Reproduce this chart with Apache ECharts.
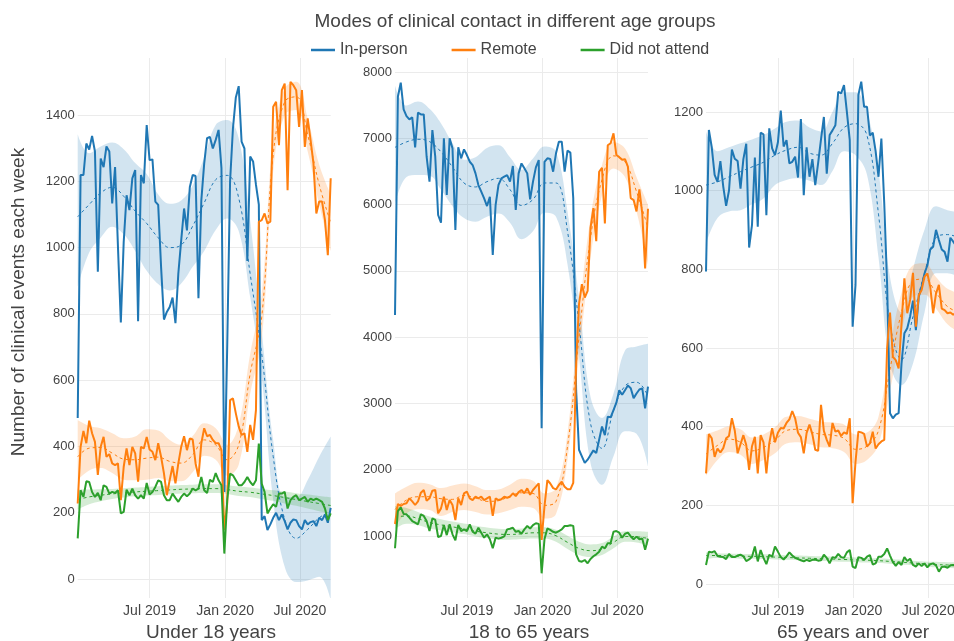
<!DOCTYPE html>
<html>
<head>
<meta charset="utf-8">
<style>
html, body { margin: 0; padding: 0; background: #fff; }
#chart { width: 954px; height: 641px; }
</style>
<script src="https://cdn.jsdelivr.net/npm/echarts@6/dist/echarts.min.js"></script>
</head>
<body>
<div id="chart"></div>
<script>
// weekly counts, 89 weeks starting 7 Jan 2019
var u18InPerson = [486, 1219, 1219, 1314, 1296, 1337, 1290, 927, 1269, 1243,
  1305, 1290, 1133, 1243, 1003, 774, 1017, 1158, 1113, 1209,
  1234, 778, 1219, 1194, 1370, 1264, 1266, 1139, 1129, 942,
  783, 806, 821, 849, 772, 922, 1022, 1118, 1052, 1183,
  1219, 1216, 847, 1143, 1254, 1330, 1334, 1299, 1325, 1355,
  1240, 263, 700, 1200, 1360, 1453, 1487, 1320, 1299, 960,
  1275, 1260, 1190, 1130, 178, 190, 148, 165, 185, 200,
  178, 195, 175, 150, 170, 180, 178, 160, 150, 178,
  165, 172, 175, 160, 185, 178, 195, 170, 215];
var u18Remote = [228, 399, 447, 410, 478, 440, 414, 314, 399, 429,
  369, 377, 349, 344, 349, 238, 339, 394, 344, 399,
  379, 294, 399, 394, 429, 391, 384, 359, 410, 369,
  319, 253, 299, 341, 289, 349, 399, 431, 389, 424,
  421, 349, 309, 410, 455, 431, 435, 420, 410, 410,
  389, 148, 228, 540, 545, 500, 460, 435, 440, 384,
  465, 420, 510, 1078, 1083, 1103, 1073, 1078, 1425, 1440,
  1309, 1475, 1495, 1173, 1500, 1490, 1475, 1364, 1475, 1304,
  1390, 1324, 1254, 1103, 1139, 1139, 1083, 977, 1209];
var u18Dna = [123, 268, 248, 295, 293, 263, 248, 260, 238, 283,
  278, 258, 263, 260, 268, 198, 203, 270, 253, 273,
  253, 243, 253, 243, 290, 255, 263, 278, 298, 293,
  253, 238, 238, 258, 245, 233, 248, 258, 250, 258,
  273, 268, 273, 308, 268, 260, 300, 293, 320, 298,
  283, 77, 238, 318, 313, 298, 283, 283, 293, 308,
  293, 283, 298, 409, 288, 263, 198, 213, 226, 218,
  258, 258, 263, 213, 238, 248, 253, 238, 243, 248,
  233, 243, 238, 243, 238, 233, 213, 178, 198];

var midInPerson = [4335, 7633, 7845, 7442, 7341, 7291, 7321, 6868, 7392, 7366,
  7366, 6727, 6350, 7130, 6727, 5846, 5730, 7004, 6148, 7004,
  6853, 5619, 6868, 6702, 6838, 6752, 6651, 6601, 6475, 6299,
  6198, 6097, 5981, 6122, 5241, 6000, 6300, 6400, 6425, 6450,
  6350, 6586, 5921, 6475, 6626, 6551, 6475, 6083, 6350, 6566,
  6677, 2624, 6650, 6702, 6692, 6500, 6778, 6954, 6954, 6500,
  6818, 6788, 6100, 3200, 2300, 2200, 2100, 2150, 2220, 2290,
  2250, 2450, 2650, 2520, 2800, 2790, 2900, 3010, 3200, 3130,
  3200, 3270, 3230, 3080, 3150, 3210, 3228, 2926, 3253];
var midRemote = [1178, 1480, 1450, 1480, 1490, 1566, 1520, 1465, 1520, 1651,
  1692, 1530, 1566, 1681, 1692, 1339, 1414, 1591, 1389, 1540,
  1465, 1238, 1566, 1465, 1641, 1666, 1565, 1540, 1591, 1566,
  1590, 1540, 1566, 1591, 1300, 1566, 1540, 1551, 1591, 1575,
  1590, 1641, 1600, 1660, 1692, 1641, 1717, 1620, 1692, 1742,
  1792, 937, 1450, 1842, 1790, 1720, 1700, 1767, 1817, 1742,
  1702, 1702, 1800, 3600, 4500, 4800, 4600, 4700, 5650, 5950,
  5450, 6500, 6560, 5720, 6900, 6930, 7079, 6752, 6720, 6680,
  6690, 6576, 6100, 6072, 5900, 6233, 5871, 5040, 5940];
var midDna = [811, 1374, 1430, 1330, 1324, 1274, 1223, 1198, 1173, 1324,
  1299, 1223, 1072, 1263, 1240, 982, 997, 1163, 1010, 1173,
  1022, 932, 1163, 1072, 1097, 1072, 1173, 1062, 1032, 1122,
  1047, 972, 1022, 947, 811, 972, 957, 970, 990, 1097,
  1107, 1122, 1060, 1072, 1030, 1097, 1148, 1110, 1160, 1190,
  1180, 433, 950, 1110, 1090, 1060, 1047, 1072, 1097, 1148,
  1148, 1160, 1150, 720, 620, 609, 634, 584, 650, 690,
  720, 760, 836, 811, 886, 890, 1062, 1072, 1047, 972,
  1030, 1047, 990, 947, 987, 947, 960, 790, 957];

var oldInPerson = [794, 1154, 1110, 1040, 1022, 1075, 1010, 961, 1000, 1104,
  1081, 1075, 1005, 1080, 1119, 855, 913, 1084, 908, 1147,
  1143, 937, 1158, 1107, 1090, 1122, 1203, 1112, 1128, 1069,
  1073, 1086, 1033, 1182, 988, 1110, 1035, 1080, 1014, 1070,
  1130, 1187, 1043, 1141, 1153, 1166, 1251, 1247, 1268, 1200,
  1128, 654, 760, 1243, 1277, 1213, 1213, 1140, 1147, 1100,
  1035, 1132, 967, 760, 434, 421, 430, 434, 560, 637,
  650, 680, 720, 645, 730, 755, 789, 810, 850, 857,
  900, 874, 850, 844, 819, 880, 870, 860, 850];
var oldRemote = [281, 381, 370, 323, 344, 334, 345, 370, 376, 421,
  390, 332, 355, 378, 353, 290, 350, 374, 281, 378,
  360, 281, 357, 396, 360, 384, 396, 395, 409, 418,
  439, 421, 384, 373, 332, 384, 405, 380, 341, 338,
  455, 389, 366, 349, 409, 387, 390, 376, 385, 381,
  421, 205, 310, 387, 385, 381, 349, 357, 387, 344,
  355, 362, 366, 600, 690, 577, 569, 548, 660, 777,
  688, 722, 791, 654, 734, 747, 781, 789, 755, 688,
  738, 760, 700, 696, 688, 690, 684, 690, 680];
var oldDna = [48, 82, 80, 83, 71, 69, 68, 63, 76, 68,
  68, 72, 74, 70, 58, 62, 69, 95, 57, 86,
  66, 50, 74, 69, 95, 82, 68, 62, 70, 80,
  72, 66, 63, 60, 57, 61, 58, 61, 62, 59,
  60, 74, 66, 52, 68, 66, 76, 68, 66, 80,
  86, 44, 40, 68, 66, 61, 69, 73, 49, 52,
  69, 69, 76, 90, 72, 55, 46, 55, 48, 68,
  58, 64, 48, 44, 52, 45, 52, 42, 50, 52,
  47, 31, 43, 44, 41, 47, 48, 45, 46];

// smoothed trend with confidence band, read every 4th week
var trendWeeks = [0, 4, 8, 12, 16, 20, 24, 28, 32, 36, 40, 44, 48, 52, 56, 60, 64, 68, 72, 76, 80, 84, 88];

var u18InPersonTrend = [1093, 1130, 1165, 1182, 1155, 1110, 1073, 1030, 1000, 1008, 1065, 1135, 1205, 1218, 1150, 920, 680, 370, 180, 123, 150, 185, 205];
var u18InPersonHi = [1342, 1285, 1305, 1317, 1297, 1255, 1222, 1160, 1132, 1142, 1188, 1272, 1370, 1385, 1330, 1080, 751, 419, 248, 248, 299, 369, 430];
var u18InPersonLo = [881, 985, 1030, 1063, 1040, 990, 930, 890, 871, 892, 942, 990, 1053, 1088, 1050, 850, 610, 238, 37, -9, -4, 7, -64];
var u18RemoteTrend = [369, 395, 397, 380, 362, 360, 365, 368, 355, 350, 375, 420, 405, 360, 405, 620, 790, 1280, 1440, 1455, 1340, 1190, 1075];
var u18RemoteHi = [480, 462, 455, 440, 425, 430, 452, 448, 420, 405, 432, 470, 455, 405, 465, 680, 860, 1330, 1480, 1500, 1390, 1250, 1160];
var u18RemoteLo = [299, 328, 335, 320, 300, 298, 300, 305, 296, 295, 322, 372, 360, 312, 345, 560, 720, 1230, 1400, 1415, 1290, 1130, 990];
var u18DnaTrend = [240, 248, 253, 257, 260, 263, 265, 267, 269, 271, 272, 273, 273, 270, 265, 262, 257, 252, 246, 240, 234, 228, 222];
var u18DnaHi = [270, 270, 271, 272, 274, 276, 278, 280, 282, 284, 285, 286, 286, 283, 279, 276, 272, 268, 264, 259, 255, 251, 247];
var u18DnaLo = [210, 226, 235, 242, 246, 250, 252, 254, 256, 258, 259, 260, 260, 257, 251, 248, 242, 236, 228, 221, 213, 205, 197];

var midInPersonTrend = [6868, 6950, 6990, 6955, 6800, 6570, 6330, 6270, 6350, 6400, 6230, 5990, 6080, 6330, 6330, 5600, 4200, 2700, 2320, 2890, 3263, 3320, 3110];
var midInPersonHi = [7800, 7500, 7560, 7450, 7230, 6930, 6680, 6720, 6860, 6900, 6720, 6530, 6700, 6880, 6800, 5900, 4600, 3100, 2780, 3150, 3800, 3860, 3900];
var midInPersonLo = [6000, 6420, 6450, 6440, 6230, 5980, 5800, 5745, 5820, 5870, 5730, 5480, 5600, 5880, 5820, 5100, 3700, 2100, 1770, 2200, 2580, 2540, 2050];
var midRemoteTrend = [1400, 1540, 1590, 1590, 1560, 1550, 1610, 1570, 1520, 1530, 1600, 1650, 1640, 1460, 1520, 2350, 4000, 5500, 6380, 6740, 6650, 6200, 5650];
var midRemoteHi = [1640, 1740, 1800, 1780, 1720, 1760, 1790, 1750, 1690, 1700, 1770, 1860, 1830, 1640, 1720, 2550, 4300, 5800, 6600, 6950, 6850, 6420, 6000];
var midRemoteLo = [1140, 1340, 1400, 1390, 1300, 1360, 1390, 1360, 1320, 1340, 1390, 1440, 1420, 1260, 1330, 2150, 3700, 5200, 6150, 6550, 6420, 5900, 5100];
var midDnaTrend = [1280, 1300, 1260, 1200, 1165, 1135, 1105, 1070, 1045, 1025, 1020, 1030, 1045, 1045, 1000, 900, 810, 775, 800, 900, 990, 985, 960];
var midDnaHi = [1450, 1420, 1360, 1290, 1250, 1215, 1185, 1150, 1125, 1105, 1100, 1110, 1130, 1130, 1090, 1000, 910, 870, 890, 990, 1070, 1070, 1060];
var midDnaLo = [1100, 1180, 1160, 1110, 1080, 1055, 1025, 990, 965, 945, 940, 950, 960, 960, 910, 800, 710, 680, 710, 810, 910, 900, 860];

var oldInPersonTrend = [1014, 1022, 1035, 1048, 1060, 1072, 1090, 1103, 1110, 1095, 1090, 1120, 1160, 1170, 1140, 940, 660, 570, 680, 790, 880, 888, 880];
var oldInPersonHi = [1150, 1100, 1110, 1120, 1130, 1141, 1158, 1175, 1178, 1160, 1150, 1200, 1250, 1250, 1200, 1050, 780, 690, 800, 900, 960, 950, 945];
var oldInPersonLo = [865, 930, 947, 950, 965, 980, 1014, 1027, 1031, 1025, 1014, 1050, 1100, 1090, 1040, 830, 560, 505, 560, 690, 790, 790, 780];
var oldRemoteTrend = [330, 352, 368, 360, 338, 347, 365, 390, 393, 387, 380, 378, 370, 342, 350, 390, 545, 690, 770, 775, 740, 705, 690];
var oldRemoteHi = [380, 390, 400, 393, 372, 380, 398, 425, 427, 420, 413, 410, 405, 380, 385, 425, 600, 740, 810, 815, 780, 750, 740];
var oldRemoteLo = [275, 315, 335, 328, 305, 315, 332, 357, 360, 355, 347, 345, 335, 305, 315, 355, 490, 640, 730, 735, 700, 660, 640];
var oldDnaTrend = [72, 72, 71, 70, 70, 69, 68, 67, 66, 65, 64, 63, 62, 61, 60, 59, 57, 55, 53, 51, 49, 48, 47];
var oldDnaHi = [80, 78, 77, 76, 76, 75, 74, 73, 72, 71, 70, 69, 68, 67, 66, 65, 63, 61, 59, 57, 56, 55, 55];
var oldDnaLo = [64, 66, 65, 64, 64, 63, 62, 61, 60, 59, 58, 57, 56, 55, 54, 53, 51, 49, 47, 45, 42, 41, 39];

var groupNames = ['Under 18 years', '18 to 65 years', '65 years and over'];
var seriesNames = ['In-person', 'Remote', 'Did not attend'];
var xLabelDates = [Date.UTC(2019, 6, 1), Date.UTC(2020, 0, 1), Date.UTC(2020, 6, 1)];

var FONT = '"Liberation Sans", Arial, sans-serif';
var TEXT = '#444';
var GRID = '#ebebeb';
var colors = ['#1f77b4', '#ff7f0e', '#2ca02c'];
var bandColors = ['rgba(31,119,180,0.2)', 'rgba(255,127,14,0.2)', 'rgba(44,160,44,0.2)'];
var monthNames = ['Jan', 'Feb', 'Mar', 'Apr', 'May', 'Jun', 'Jul', 'Aug', 'Sep', 'Oct', 'Nov', 'Dec'];

var startDate = Date.UTC(2019, 0, 7);
var weekMs = 7 * 24 * 3600 * 1000;
function weekDate(i) { return startDate + i * weekMs; }

var panels = [
    { left: 77.7, titleX: 211, yMin: -57, yMax: 1572,
      tickTop: 115, tickHeight: 464, tickMin: 0, tickMax: 1400, tickStep: 200,
      lines: [u18InPerson, u18Remote, u18Dna],
      trends: [u18InPersonTrend, u18RemoteTrend, u18DnaTrend],
      his: [u18InPersonHi, u18RemoteHi, u18DnaHi],
      los: [u18InPersonLo, u18RemoteLo, u18DnaLo] },
    { left: 395, titleX: 529, yMin: 60, yMax: 8218,
      tickTop: 72, tickHeight: 464, tickMin: 1000, tickMax: 8000, tickStep: 1000,
      lines: [midInPerson, midRemote, midDna],
      trends: [midInPersonTrend, midRemoteTrend, midDnaTrend],
      his: [midInPersonHi, midRemoteHi, midDnaHi],
      los: [midInPersonLo, midRemoteLo, midDnaLo] },
    { left: 706, titleX: 853, yMin: -36, yMax: 1337,
      tickTop: 112, tickHeight: 472, tickMin: 0, tickMax: 1200, tickStep: 200,
      lines: [oldInPerson, oldRemote, oldDna],
      trends: [oldInPersonTrend, oldRemoteTrend, oldDnaTrend],
      his: [oldInPersonHi, oldRemoteHi, oldDnaHi],
      los: [oldInPersonLo, oldRemoteLo, oldDnaLo] }
];

var PLOT_TOP = 58, PLOT_H = 540, PLOT_W = 253;

var grids = [], xAxes = [], yAxes = [], series = [], graphics = [];

// data grids (0..2): hidden time axis for the series, so stacking works on y
panels.forEach(function (p, pi) {
    grids.push({ left: p.left, top: PLOT_TOP, width: PLOT_W, height: PLOT_H, outerBoundsMode: 'none' });
    xAxes.push({
        type: 'time', gridIndex: pi, position: 'top', min: weekDate(0), max: weekDate(88), show: false,
        splitLine: { show: false }
    });
    yAxes.push({
        type: 'value', gridIndex: pi, min: p.yMin, max: p.yMax,
        axisLine: { show: false }, axisTick: { show: false },
        axisLabel: { show: false }, splitLine: { show: false }
    });
});

// tick grids (3..5): only carry the y labels and horizontal grid lines
panels.forEach(function (p, pi) {
    grids.push({ left: p.left, top: p.tickTop, width: PLOT_W, height: p.tickHeight, outerBoundsMode: 'none' });
    xAxes.push({ type: 'value', gridIndex: 3 + pi, show: false, min: 0, max: 1, splitLine: { show: false } });
    yAxes.push({
        type: 'value', gridIndex: 3 + pi, min: p.tickMin, max: p.tickMax, interval: p.tickStep,
        axisLine: { show: false }, axisTick: { show: false },
        axisLabel: { color: TEXT, fontSize: 13, fontFamily: FONT, margin: 3, formatter: function (v) { return String(v); } },
        splitLine: { show: true, lineStyle: { color: GRID, width: 1 } }
    });
});

// date labels and vertical grid lines on the data grids (x axes 6..8)
panels.forEach(function (p, pi) {
    xAxes.push({
        type: 'value', gridIndex: pi, position: 'bottom', min: weekDate(0), max: weekDate(88),
        axisLine: { show: false },
        axisTick: { show: false, customValues: xLabelDates },
        axisLabel: {
            customValues: xLabelDates, color: TEXT, fontSize: 14, fontFamily: FONT, margin: 6,
            formatter: function (v) {
                var d = new Date(v);
                return monthNames[d.getUTCMonth()] + ' ' + d.getUTCFullYear();
            }
        },
        splitLine: { show: true, lineStyle: { color: GRID, width: 1 } }
    });
});

panels.forEach(function (p, pi) {
    for (var k = 0; k < 3; k++) {
        var stackId = 'band' + pi + '_' + k;
        var lo = p.los[k], hi = p.his[k];
        series.push({
            type: 'line', name: seriesNames[k] + ' band low', xAxisIndex: pi, yAxisIndex: pi,
            stack: stackId, stackStrategy: 'all', smooth: 0.4, symbol: 'none', silent: true,
            lineStyle: { width: 0, opacity: 0 }, z: 1,
            data: trendWeeks.map(function (w, j) { return [weekDate(w), lo[j]]; })
        });
        series.push({
            type: 'line', name: seriesNames[k] + ' band', xAxisIndex: pi, yAxisIndex: pi,
            stack: stackId, stackStrategy: 'all', smooth: 0.4, symbol: 'none', silent: true,
            lineStyle: { width: 0, opacity: 0 }, z: 1,
            areaStyle: { color: bandColors[k], opacity: 1 },
            data: trendWeeks.map(function (w, j) { return [weekDate(w), hi[j] - lo[j]]; })
        });
    }
    for (var k2 = 0; k2 < 3; k2++) {
        var tr = p.trends[k2];
        series.push({
            type: 'line', name: seriesNames[k2] + ' trend', xAxisIndex: pi, yAxisIndex: pi,
            smooth: 0.4, symbol: 'none', silent: true, z: 3,
            lineStyle: { color: colors[k2], width: 1, type: [3, 3] },
            data: trendWeeks.map(function (w, j) { return [weekDate(w), tr[j]]; })
        });
    }
    for (var k3 = 0; k3 < 3; k3++) {
        var vals = p.lines[k3];
        series.push({
            type: 'line', name: seriesNames[k3], xAxisIndex: pi, yAxisIndex: pi,
            symbol: 'none', showSymbol: false, z: 4,
            itemStyle: { color: colors[k3] },
            lineStyle: { color: colors[k3], width: 2 },
            data: vals.map(function (v, i) { return [weekDate(i), v]; })
        });
    }
    graphics.push({
        type: 'text', x: p.titleX, y: 633, silent: true,
        style: { text: groupNames[pi], fill: TEXT, fontSize: 19, fontFamily: FONT, textAlign: 'center', textVerticalAlign: 'middle' }
    });
});

graphics.push({
    type: 'text', x: 515, y: 22, silent: true,
    style: { text: 'Modes of clinical contact in different age groups', fill: TEXT, fontSize: 19, fontFamily: FONT, textAlign: 'center', textVerticalAlign: 'middle' }
});
graphics.push({
    type: 'text', x: 19, y: 302, rotation: Math.PI / 2, silent: true,
    style: { text: 'Number of clinical events each week', fill: TEXT, fontSize: 19, fontFamily: FONT, textAlign: 'center', textVerticalAlign: 'middle' }
});

var chart = echarts.init(document.getElementById('chart'));
chart.setOption({
    animation: false,
    backgroundColor: '#fff',
    legend: {
        data: seriesNames, left: 306, top: 37, icon: 'rect', itemWidth: 24, itemHeight: 2.5, itemGap: 44,
        textStyle: { color: TEXT, fontSize: 16, fontFamily: FONT }
    },
    grid: grids,
    xAxis: xAxes,
    yAxis: yAxes,
    series: series,
    graphic: graphics
});
</script>
</body>
</html>
